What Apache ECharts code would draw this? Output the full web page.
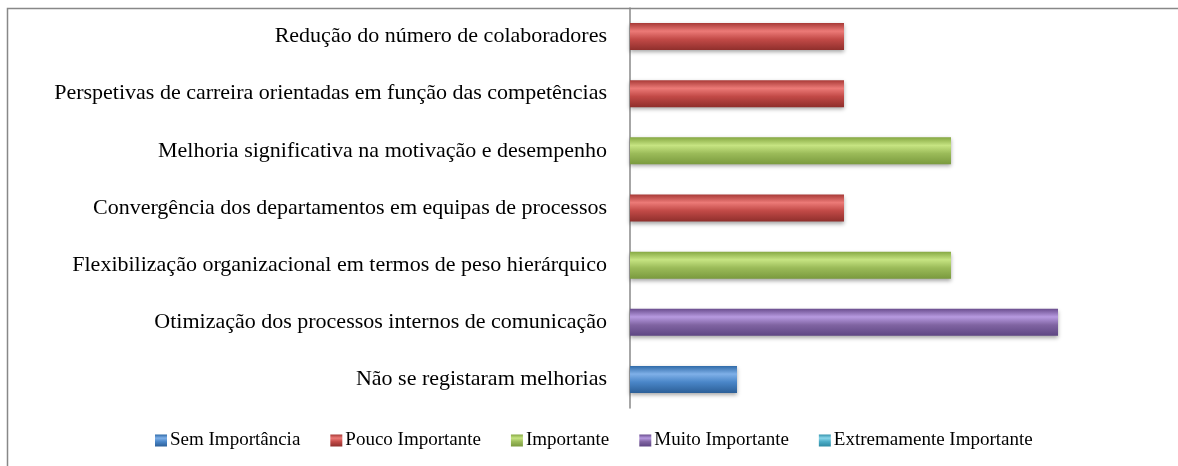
<!DOCTYPE html>
<html lang="pt">
<head>
    <meta charset="UTF-8">
    <title>Melhorias</title>
    <script src="https://cdn.jsdelivr.net/npm/echarts@6/dist/echarts.min.js"></script>
    <style>
        html, body { margin: 0; padding: 0; background: #fff; }
        #chart1 { width: 1178px; height: 466px; }
    </style>
</head>
<body>
<div id="chart1"></div>
<script>
    // categorias de baixo para cima
    var categorias = [
        'Não se registaram melhorias',
        'Otimização dos processos internos de comunicação',
        'Flexibilização organizacional em termos de peso hierárquico',
        'Convergência dos departamentos em equipas de processos',
        'Melhoria significativa na motivação e desempenho',
        'Perspetivas de carreira orientadas em função das competências',
        'Redução do número de colaboradores'
    ];
    var niveis = ['Sem Importância', 'Pouco Importante', 'Importante', 'Muito Importante', 'Extremamente Importante'];
    var semImportancia = [1, '-', '-', '-', '-', '-', '-'];
    var poucoImportante = ['-', '-', '-', 2, '-', 2, 2];
    var importante = ['-', '-', 3, '-', 3, '-', '-'];
    var muitoImportante = ['-', 4, '-', '-', '-', '-', '-'];
    var extremamenteImportante = ['-', '-', '-', '-', '-', '-', '-'];

    var cores = [
        ['#2f6aa8', '#7fb0e8', '#4a86c8', '#2c5f98'],
        ['#a83a37', '#ec7a77', '#c24a47', '#8f2f2c'],
        ['#86a843', '#c6e482', '#9bbb59', '#7a9a3e'],
        ['#6a4d8e', '#b79ae0', '#8064a2', '#5e4683'],
        ['#3594ad', '#8ad6ea', '#4bacc6', '#2f8aa3']
    ];
    function grad(c) {
        return new echarts.graphic.LinearGradient(0, 0, 0, 1, [
            {offset: 0, color: c[0]},
            {offset: 0.3, color: c[1]},
            {offset: 0.6, color: c[2]},
            {offset: 1, color: c[3]}
        ]);
    }
    var valores = [semImportancia, poucoImportante, importante, muitoImportante, extremamenteImportante];
    var series = [];
    for (var i = 0; i < niveis.length; i++) {
        series.push({
            name: niveis[i],
            type: 'bar',
            stack: 'total',
            barWidth: 27,
            data: valores[i],
            itemStyle: {
                color: grad(cores[i]),
                shadowColor: 'rgba(0,0,0,0.35)',
                shadowBlur: 4,
                shadowOffsetY: 2
            }
        });
    }

    var chart = echarts.init(document.getElementById('chart1'), null, {renderer: 'canvas'});
    var option = {
        animation: false,
        color: ['#4a86c8', '#c24a47', '#9bbb59', '#8064a2', '#4bacc6'],
        graphic: [{
            type: 'rect',
            shape: {x: 7.5, y: 8.5, width: 1200, height: 500},
            style: {fill: 'none', stroke: '#888', lineWidth: 1.5},
            silent: true
        }],
        grid: {left: 630, right: 13, top: 8, bottom: 58, containLabel: false},
        legend: {
            left: 150,
            top: 426,
            itemWidth: 12,
            itemHeight: 12,
            itemGap: 30,
            icon: 'rect',
            textStyle: {fontFamily: 'Liberation Serif', fontSize: 19, color: '#000', padding: [0, 0, 0, -2]},
            data: niveis
        },
        xAxis: {
            type: 'value',
            min: 0,
            max: 5,
            show: false
        },
        yAxis: {
            type: 'category',
            data: categorias,
            axisLine: {show: true, lineStyle: {color: '#888', width: 1.5}},
            axisTick: {show: false},
            axisLabel: {
                margin: 23,
                fontFamily: 'Liberation Serif',
                fontSize: 22,
                color: '#000'
            }
        },
        series: series
    };
    chart.setOption(option);
</script>
</body>
</html>
